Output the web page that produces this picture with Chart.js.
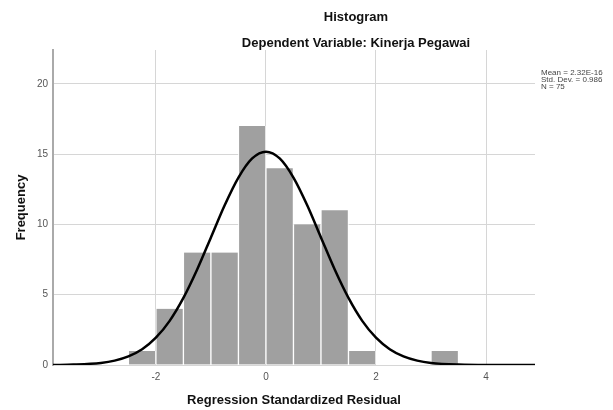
<!DOCTYPE html>
<html>
<head>
<meta charset="utf-8">
<script src="https://cdn.jsdelivr.net/npm/chart.js@4.4.0/dist/chart.umd.min.js"></script>
<style>
  body { margin: 0; background: #fff; }
  #wrap { width: 613px; height: 410px; }
</style>
</head>
<body>
<div id="wrap"><canvas id="my-chart" width="613" height="410"></canvas></div>
<script>
// bins of 0.5, given by their centres
let binCenters = [-2.25, -1.75, -1.25, -0.75, -0.25, 0.25, 0.75, 1.25, 1.75, 2.25, 2.75, 3.25];
let frequencies = [1, 4, 8, 8, 17, 14, 10, 11, 1, 0, 0, 1];

// normal curve
let curveX = [-3.87, -3.5, -3, -2.75, -2.5, -2.25, -2, -1.75, -1.5, -1.25, -1, -0.75, -0.5, -0.25, 0,
  0.25, 0.5, 0.75, 1, 1.25, 1.5, 1.75, 2, 2.25, 2.5, 2.75, 3, 3.5, 4, 4.89];
let curveY = [0, 0.03, 0.15, 0.31, 0.61, 1.12, 1.94, 3.14, 4.77, 6.79, 9.07, 11.36, 13.33, 14.69, 15.17,
  14.69, 13.33, 11.36, 9.07, 6.79, 4.77, 3.14, 1.94, 1.12, 0.61, 0.31, 0.15, 0.03, 0, 0];

let xTicks = [-2, 0, 2, 4];
let yTicks = [0, 5, 10, 15, 20];

let statLines = ['Mean = 2.32E-16', 'Std. Dev. = 0.986', 'N = 75'];

let fontName = '"Liberation Sans", Arial, sans-serif';

let barPoints = [];
for (let i = 0; i < binCenters.length; i++) {
  barPoints.push({ x: binCenters[i], y: frequencies[i] });
}
let curvePoints = [];
for (let i = 0; i < curveX.length; i++) {
  curvePoints.push({ x: curveX[i], y: curveY[i] });
}

// titles and the stats box are drawn by hand, they sit off-centre in the original
let textPlugin = {
  id: 'texts',
  afterDraw(chart) {
    let ctx = chart.ctx;
    ctx.save();
    ctx.fillStyle = '#111';
    ctx.textAlign = 'center';
    ctx.textBaseline = 'middle';
    ctx.font = 'bold 13px ' + fontName;
    ctx.fillText('Histogram', 356, 17);
    ctx.fillText('Dependent Variable: Kinerja Pegawai', 356, 43);

    ctx.textAlign = 'left';
    ctx.fillStyle = '#444';
    ctx.font = '8px ' + fontName;
    for (let i = 0; i < statLines.length; i++) {
      ctx.fillText(statLines[i], 541, 73 + i * 7);
    }
    ctx.restore();
  }
};

let chartcontext = document.getElementById('my-chart').getContext('2d');

let chartConfig = {
  type: 'bar',
  data: {
    datasets: [{
      type: 'line',
      data: curvePoints,
      borderColor: '#000',
      borderWidth: 2.5,
      pointRadius: 0,
      cubicInterpolationMode: 'monotone',
      fill: false,
      order: 0
    }, {
      type: 'bar',
      data: barPoints,
      backgroundColor: '#a0a0a0',
      borderColor: '#fff',
      borderWidth: { left: 1, right: 1, top: 0, bottom: 0 },
      barPercentage: 1,
      categoryPercentage: 1,
      order: 1
    }]
  },
  options: {
    responsive: false,
    animation: false,
    layout: { padding: { top: 50, right: 78, left: 0, bottom: 0 } },
    plugins: {
      legend: { display: false },
      tooltip: { enabled: false }
    },
    scales: {
      x: {
        type: 'linear',
        min: -3.87,
        max: 4.89,
        offset: false,
        afterBuildTicks: function (scale) {
          scale.ticks = xTicks.map(v => ({ value: v }));
        },
        afterFit: function (scale) { scale.height = 45; },
        grid: { color: '#d6d6d6', lineWidth: 1, drawTicks: false, offset: false },
        border: { display: false },
        ticks: { color: '#555', font: { family: fontName, size: 10 }, padding: 6 },
        title: {
          display: true,
          text: 'Regression Standardized Residual',
          color: '#111',
          font: { family: fontName, size: 13, weight: 'bold' },
          padding: { top: 0, bottom: 2 }
        }
      },
      y: {
        min: 0,
        max: 22.4,
        afterBuildTicks: function (scale) {
          scale.ticks = yTicks.map(v => ({ value: v }));
        },
        afterFit: function (scale) { scale.width = 53; },
        grid: { color: '#d6d6d6', lineWidth: 1, drawTicks: false },
        border: { display: true, color: '#aaa', width: 2 },
        ticks: { color: '#555', font: { family: fontName, size: 10 }, padding: 5 },
        title: {
          display: true,
          text: 'Frequency',
          color: '#111',
          font: { family: fontName, size: 13, weight: 'bold' },
          padding: { top: 14, bottom: 0 }
        }
      }
    }
  },
  plugins: [textPlugin]
};

let mychart = new Chart(chartcontext, chartConfig);
</script>
</body>
</html>
